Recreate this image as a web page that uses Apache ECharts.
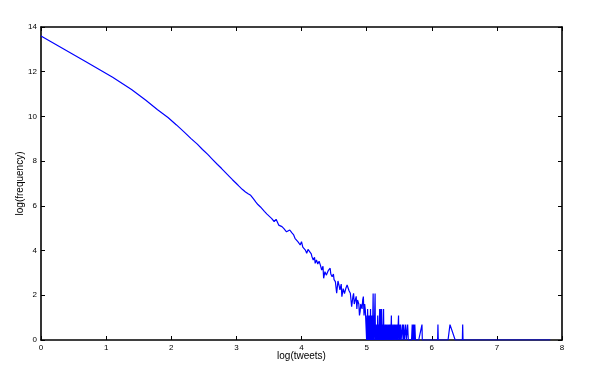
<!DOCTYPE html>
<html>
<head>
<meta charset="utf-8">
<script src="https://cdn.jsdelivr.net/npm/echarts@6/dist/echarts.min.js"></script>
<style>html,body{margin:0;padding:0;background:#fff}#c{width:600px;height:382px}</style>
</head>
<body>
<div id="c"></div>
<script>
// log(tweets) values
const logTweets = [
  0, 0.69, 1.1, 1.39, 1.61, 1.79, 1.95, 2.08, 2.2, 2.3, 2.4, 2.48, 2.56, 2.64, 2.71, 2.77,
  2.83, 2.89, 2.94, 3.0, 3.04, 3.09, 3.14, 3.18, 3.22, 3.26, 3.3, 3.33, 3.37, 3.4, 3.43, 3.47, 3.5,
  3.54, 3.58, 3.61, 3.65, 3.68, 3.70, 3.73, 3.77, 3.80, 3.82, 3.85, 3.88, 3.90, 3.93, 3.95, 3.98,
  4.00, 4.02, 4.04, 4.06, 4.08, 4.10, 4.13, 4.15, 4.16, 4.18, 4.20, 4.21, 4.23, 4.25, 4.27, 4.29,
  4.31, 4.33, 4.34, 4.36, 4.38, 4.39, 4.41, 4.44, 4.45, 4.47, 4.49, 4.50, 4.52, 4.54, 4.56, 4.58,
  4.59, 4.61, 4.62, 4.64, 4.66, 4.68, 4.70, 4.72, 4.73, 4.75, 4.76, 4.77, 4.79, 4.80, 4.81, 4.82,
  4.84, 4.85, 4.86, 4.88, 4.89, 4.90, 4.91, 4.93, 4.94, 4.95, 4.96, 4.97, 4.98, 4.99,
  5.00, 5.005, 5.01, 5.015, 5.02, 5.025, 5.03, 5.035, 5.04, 5.045, 5.05, 5.055, 5.06, 5.065, 5.07,
  5.075, 5.08, 5.085, 5.09, 5.095, 5.10, 5.105, 5.11, 5.115, 5.12, 5.13, 5.135, 5.14, 5.15, 5.16,
  5.165, 5.17, 5.175, 5.18, 5.19, 5.20, 5.205, 5.21, 5.215, 5.22, 5.23, 5.235, 5.24, 5.25, 5.26,
  5.265, 5.27, 5.28, 5.29, 5.30, 5.31, 5.32, 5.33, 5.34, 5.35, 5.355, 5.36, 5.37, 5.38, 5.385,
  5.39, 5.40, 5.41, 5.42, 5.43, 5.44, 5.45, 5.46, 5.47, 5.475, 5.49, 5.495, 5.50, 5.51, 5.52,
  5.53, 5.55, 5.56, 5.57, 5.58, 5.60, 5.61, 5.63, 5.64, 5.69, 5.70, 5.71, 5.72, 5.73, 5.74, 5.75,
  5.80, 5.85, 5.855, 6.09, 6.095, 6.10, 6.25, 6.28, 6.36, 6.47, 6.475, 6.48, 7.82
];
// log(frequency) values
const logFrequency = [
  13.6, 12.45, 11.75, 11.2, 10.72, 10.3, 9.95, 9.62, 9.3, 9.02, 8.76, 8.52, 8.3, 8.06, 7.85, 7.68,
  7.5, 7.32, 7.17, 7.0, 6.88, 6.74, 6.62, 6.54, 6.47, 6.32, 6.17, 6.06, 5.95, 5.85, 5.75, 5.63, 5.55,
  5.44, 5.30, 5.40, 5.14, 5.18, 5.07, 4.98, 4.84, 4.86, 4.92, 4.80, 4.70, 4.55, 4.47, 4.38, 4.25,
  4.40, 4.15, 4.22, 4.02, 3.88, 4.05, 4.10, 3.85, 3.73, 3.58, 3.70, 3.43, 3.58, 3.40, 3.52, 3.35,
  3.13, 3.30, 2.76, 3.06, 2.90, 2.98, 3.10, 3.21, 2.95, 2.83, 2.95, 2.70, 2.61, 2.09, 2.64, 2.40,
  2.24, 2.50, 1.94, 2.30, 2.08, 2.30, 2.46, 2.53, 2.20, 2.09, 1.79, 1.49, 1.95, 2.09, 1.61, 1.64,
  1.95, 1.39, 1.79, 1.61, 1.10, 1.27, 1.61, 1.39, 1.79, 1.94, 1.10, 1.61, 1.34, 0.69,
  0, 1.10, 0, 1.39, 0.69, 0, 1.10, 0.69, 0, 1.10, 0, 0.69, 1.39, 0, 1.10,
  0, 1.10, 0.69, 0, 1.10, 2.08, 0, 1.10, 0, 0.69, 2.08, 0, 0.69, 0, 0.69,
  0, 1.10, 0, 0.69, 0, 1.39, 0, 1.39, 0.69, 0, 1.39, 0, 0.69, 0, 1.39,
  0, 0.69, 0, 0.69, 0, 0.69, 0, 0.69, 0, 0.69, 0, 0.69, 0, 1.10, 0,
  0.69, 0, 0.69, 0, 0.69, 0, 0.69, 0, 0.69, 0, 1.10, 0, 0.69, 0, 0.69,
  0, 0.69, 0, 0.69, 0, 0.69, 0, 0.69, 0, 0, 0.69, 0, 0.69, 0, 0.69, 0,
  0, 0.69, 0, 0, 0.69, 0, 0, 0.69, 0, 0, 0.69, 0, 0
];
const xTicks = { min: 0, max: 8, step: 1 };
const yTicks = { min: 0, max: 14, step: 2 };

const points = logTweets.map((x, i) => [x, logFrequency[i]]);
const chart = echarts.init(document.getElementById('c'), null, { renderer: 'canvas' });
const font = 'Liberation Sans, Arial, sans-serif';
const axisBase = {
  type: 'value',
  axisLine: { show: true, onZero: false, lineStyle: { color: '#000', width: 1.6 } },
  axisTick: { show: true, inside: true, length: 4, lineStyle: { color: '#000', width: 1 } },
  splitLine: { show: false }
};
chart.setOption({
  animation: false,
  backgroundColor: '#fff',
  grid: { left: 41, right: 38, top: 27, bottom: 42, containLabel: false },
  xAxis: [
    Object.assign({}, axisBase, {
      min: xTicks.min, max: xTicks.max, interval: xTicks.step, position: 'bottom',
      name: 'log(tweets)', nameLocation: 'middle', nameGap: 11, nameMoveOverlap: false,
      nameTextStyle: { fontFamily: font, fontSize: 10, color: '#000' },
      axisLabel: { fontFamily: font, fontSize: 8, color: '#000', margin: 4 }
    }),
    Object.assign({}, axisBase, {
      min: xTicks.min, max: xTicks.max, interval: xTicks.step, position: 'top',
      axisLabel: { show: false }
    })
  ],
  yAxis: [
    Object.assign({}, axisBase, {
      min: yTicks.min, max: yTicks.max, interval: yTicks.step, position: 'left',
      name: 'log(frequency)', nameLocation: 'middle', nameGap: 16, nameMoveOverlap: false,
      nameTextStyle: { fontFamily: font, fontSize: 10, color: '#000' },
      axisLabel: { fontFamily: font, fontSize: 8, color: '#000', margin: 4 }
    }),
    Object.assign({}, axisBase, {
      min: yTicks.min, max: yTicks.max, interval: yTicks.step, position: 'right',
      axisLabel: { show: false }
    })
  ],
  series: [{
    type: 'line',
    data: points,
    showSymbol: false,
    symbol: 'none',
    lineStyle: { color: '#0000ff', width: 1.2 },
    itemStyle: { color: '#0000ff' },
    z: 5
  }]
});
</script>
</body>
</html>
